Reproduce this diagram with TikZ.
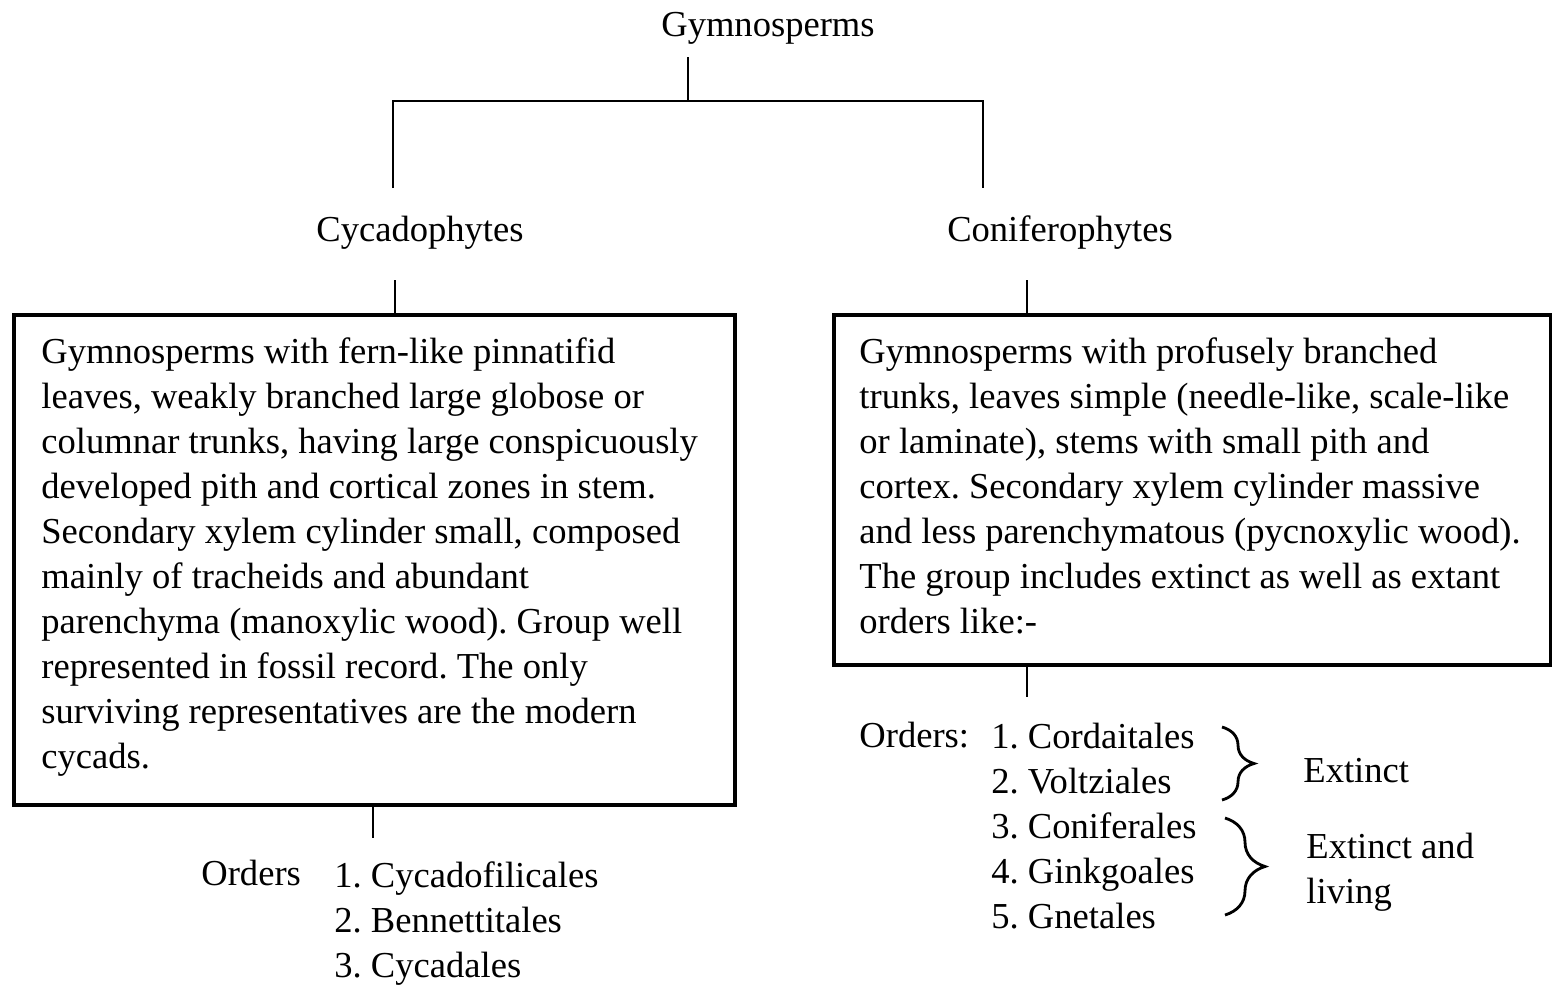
\documentclass[tikz,border=0pt]{standalone}
\usepackage{fontspec}
\setmainfont{Liberation Serif}
\usetikzlibrary{decorations.pathreplacing}
\begin{document}
\frenchspacing
\begin{tikzpicture}[x=0.01cm,y=-0.01cm,line width=0.8pt,
  font=\fontsize{10.4}{12.8}\selectfont,
  framebox/.style={draw,line width=1pt,anchor=north west,inner sep=0pt},
  bodytext/.style={align=left,anchor=north west,inner sep=0pt},
  linetext/.style={anchor=base west,inner sep=0pt},
  orderbrace/.style={decorate,decoration={brace,amplitude=#1}}]
\useasboundingbox (0,0) rectangle (1552,984);
% titles
\node (gym) [anchor=base] at (768,36) {Gymnosperms};
\node (cyc) [anchor=base] at (420,241) {Cycadophytes};
\node (con) [anchor=base] at (1060,241) {Coniferophytes};
% boxes
\node (cycbox) [framebox,minimum width=7.21cm,minimum height=4.90cm] at (12,313) {};
\node (conbox) [framebox,minimum width=7.17cm,minimum height=3.50cm] at (832,313) {};
\node (cyctext) [bodytext] at (40,336) {Gymnosperms with fern-like pinnatifid\\
  leaves, weakly branched large globose or\\
  columnar trunks, having large conspicuously\\
  developed pith and cortical zones in stem.\\
  Secondary xylem cylinder small, composed\\
  mainly of tracheids and abundant\\
  parenchyma (manoxylic wood). Group well\\
  represented in fossil record. The only\\
  surviving representatives are the modern\\
  cycads.};
\node (context) [bodytext] at (858,336) {Gymnosperms with profusely branched\\
  trunks, leaves simple (needle-like, scale-like\\
  or laminate), stems with small pith and\\
  cortex. Secondary xylem cylinder massive\\
  and less parenchymatous (pycnoxylic wood).\\
  The group includes extinct as well as extant\\
  orders like:-};
% orders
\node (cycorders) [linetext] at (200,885) {Orders};
\node (cyclist) [bodytext] at (333,860) {1. Cycadofilicales\\2. Bennettitales\\3. Cycadales};
\node (conorders) [linetext] at (858,747) {Orders:};
\node (conlist) [bodytext] at (990,722) {1. Cordaitales\\2. Voltziales\\3. Coniferales\\4. Ginkgoales\\5. Gnetales};
\node (extinct) [linetext] at (1302,782) {Extinct};
\node (living) [bodytext] at (1305,832) {Extinct and\\living};
\draw [orderbrace=0.32cm] (1222,727) -- (1222,800);
\draw [orderbrace=0.4cm] (1225,818) -- (1225,915);
% connectors
\coordinate (split) at (688,101);
\coordinate (cycup) at (393,188);
\coordinate (conup) at (983,188);
\coordinate (cycstem) at (395,280);
\coordinate (constem) at (1027,280);
\coordinate (cycfoot) at (373,838);
\coordinate (confoot) at (1027,697);
\draw (gym.south -| split) -- (split);
\draw (cycup) |- (split) -| (conup);
\draw (cycstem) -- (cycstem |- cycbox.north);
\draw (constem) -- (constem |- conbox.north);
\draw (cycbox.south -| cycfoot) -- (cycfoot);
\draw (conbox.south -| confoot) -- (confoot);
\end{tikzpicture}
\end{document}
